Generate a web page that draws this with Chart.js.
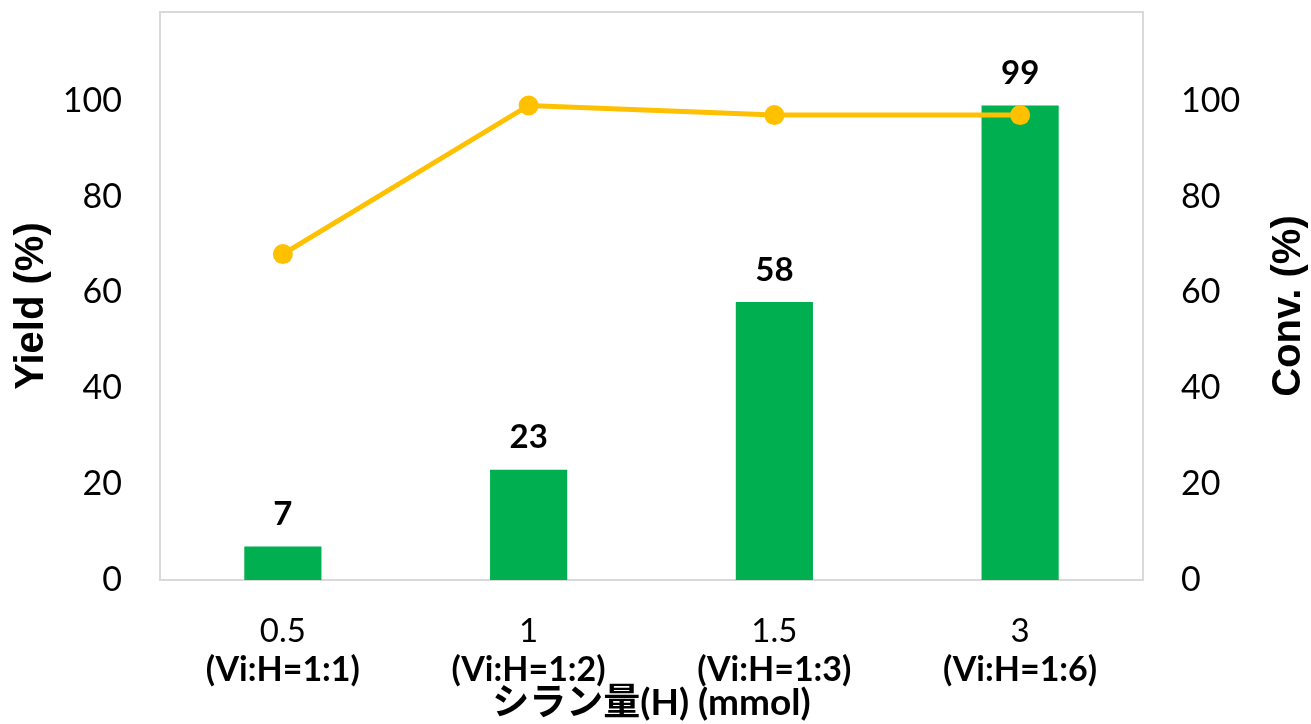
<!DOCTYPE html>
<html>
<head>
<meta charset="utf-8">
<script src="https://cdn.jsdelivr.net/npm/chart.js@4/dist/chart.umd.min.js"></script>
<style>
  html, body { margin: 0; padding: 0; background: #ffffff; }
  #wrap { width: 1311px; height: 724px; }
</style>
</head>
<body>
<div id="wrap"><canvas id="c" width="1311" height="724"></canvas></div>
<script>
// Silane amount (mmol) and the corresponding Vi:H ratio
const categories = ['0.5', '1', '1.5', '3'];
const ratioLabels = ['(Vi:H=1:1)', '(Vi:H=1:2)', '(Vi:H=1:3)', '(Vi:H=1:6)'];
// Yield (%) shown as bars, conversion (%) shown as the line
const yieldValues = [7, 23, 58, 99];
const convValues = [68, 99, 97, 97];
const yTicks = [0, 20, 40, 60, 80, 100];

const tickFont = "Lato, 'Noto Sans', sans-serif";
const jpFont = "Lato, 'Noto Sans CJK JP', sans-serif";

function fixBox(size, horizontal) {
  return function (s) {
    if (horizontal) s.height = size; else s.width = size;
    s.paddingTop = 0; s.paddingBottom = 0; s.paddingLeft = 0; s.paddingRight = 0;
  };
}
function onlyTicks(s) {
  s.ticks = yTicks.map(v => ({ value: v }));
}

// Light grey frame around the plot area
const frame = {
  id: 'frame',
  beforeDatasetsDraw(chart) {
    const { ctx, chartArea: a } = chart;
    ctx.save();
    ctx.strokeStyle = '#d9d9d9';
    ctx.lineWidth = 2;
    ctx.strokeRect(a.left, a.top, a.right - a.left, a.bottom - a.top);
    ctx.restore();
  }
};

// Value labels above the bars and rotated axis titles
const annotate = {
  id: 'annotate',
  afterDatasetsDraw(chart) {
    const { ctx } = chart;
    const meta = chart.getDatasetMeta(1);
    ctx.save();
    ctx.fillStyle = '#000000';
    ctx.font = "bold 33px " + tickFont;
    ctx.textAlign = 'center';
    ctx.textBaseline = 'middle';
    meta.data.forEach((bar, i) => {
      ctx.fillText(String(yieldValues[i]), bar.x, bar.y - 32);
    });
    ctx.font = "bold 40px 'Liberation Sans', Arial, sans-serif";
    const titles = [['Yield (%)', 32], ['Conv. (%)', 1289]];
    titles.forEach(([t, x]) => {
      ctx.save();
      ctx.translate(x, 306);
      ctx.rotate(-Math.PI / 2);
      ctx.fillText(t, 0, 0);
      ctx.restore();
    });
    ctx.restore();
  }
};

new Chart(document.getElementById('c'), {
  data: {
    labels: categories,
    datasets: [
      {
        type: 'line',
        label: 'Conv.',
        data: convValues,
        yAxisID: 'y2',
        xAxisID: 'x',
        borderColor: '#ffc000',
        backgroundColor: '#ffc000',
        borderWidth: 5,
        pointRadius: 10,
        pointHoverRadius: 10,
        pointBorderWidth: 0,
        pointBackgroundColor: '#ffc000',
        tension: 0,
        order: 0
      },
      {
        type: 'bar',
        label: 'Yield',
        data: yieldValues,
        yAxisID: 'y',
        xAxisID: 'x',
        backgroundColor: '#00b050',
        barPercentage: 1,
        categoryPercentage: 0.314,
        order: 1
      }
    ]
  },
  options: {
    responsive: false,
    animation: false,
    layout: { padding: { top: 12, left: 0, right: 0, bottom: 0 } },
    plugins: { legend: { display: false }, tooltip: { enabled: false } },
    scales: {
      x: {
        type: 'category',
        position: 'bottom',
        weight: 0,
        offset: true,
        grid: { display: false, drawTicks: false },
        border: { display: false },
        ticks: { color: '#000000', font: { family: tickFont, size: 33 }, padding: 32, maxRotation: 0 },
        afterFit: fixBox(70, true)
      },
      x2: {
        type: 'category',
        position: 'bottom',
        weight: 1,
        offset: true,
        labels: ratioLabels,
        grid: { display: false, drawTicks: false },
        border: { display: false },
        ticks: { color: '#000000', font: { family: tickFont, size: 34, weight: 'bold' }, padding: 0, maxRotation: 0 },
        title: {
          display: true,
          text: 'シラン量(H) (mmol)',
          color: '#000000',
          font: { family: jpFont, size: 37, weight: 'bold' },
          padding: { top: 0, bottom: -1 }
        },
        afterFit: fixBox(74, true)
      },
      y: {
        type: 'linear',
        position: 'left',
        min: 0,
        max: 118.5,
        grid: { display: false, drawTicks: false },
        border: { display: false },
        ticks: { color: '#000000', font: { family: tickFont, size: 34 }, padding: 38 },
        afterBuildTicks: onlyTicks,
        afterFit: fixBox(160, false)
      },
      y2: {
        type: 'linear',
        position: 'right',
        min: 0,
        max: 118.5,
        grid: { display: false, drawTicks: false },
        border: { display: false },
        ticks: { color: '#000000', font: { family: tickFont, size: 34 }, padding: 38 },
        afterBuildTicks: onlyTicks,
        afterFit: fixBox(168, false)
      }
    }
  },
  plugins: [frame, annotate]
});
</script>
</body>
</html>
